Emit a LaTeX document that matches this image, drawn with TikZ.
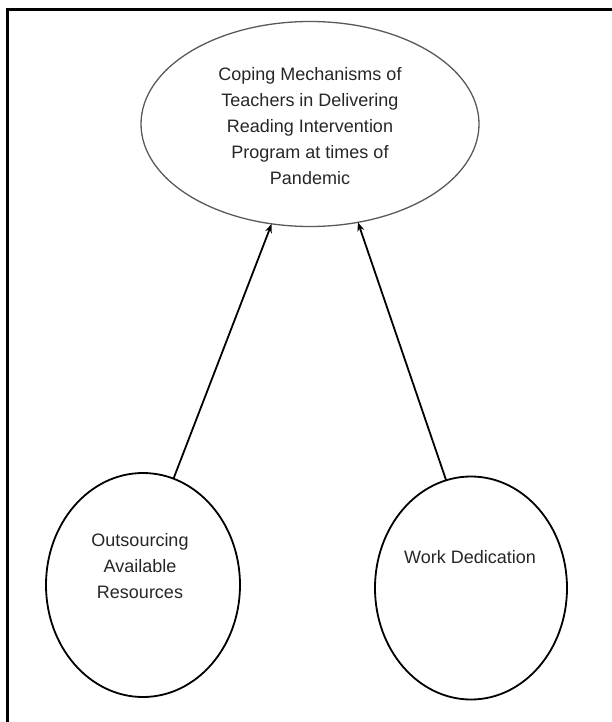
\documentclass[tikz,border=0pt]{standalone}
\usepackage{fontspec}
\setmainfont{Liberation Sans}
\usetikzlibrary{shapes.geometric,arrows.meta}
\begin{document}
\begin{tikzpicture}[x=1pt,y=-1pt,
  lbl/.style={font=\fontsize{18}{26}\selectfont, align=center, text=black!85},
  topoval/.style={ellipse, draw=black!65, line width=1.3pt, outer sep=0pt, inner sep=0pt},
  circ/.style={ellipse, draw=black, line width=1.8pt, outer sep=0pt, inner sep=0pt},
  arr/.style={-{Stealth[length=9pt,width=7pt]}, line width=1.8pt, black}]
\useasboundingbox (0,0) rectangle (611,722);
\draw[line width=3pt] (7,740) -- (7,10) -- (630,10);
\node[topoval, minimum width=338pt, minimum height=205pt] (top) at (310,124) {};
\node[circ, minimum width=194pt, minimum height=224pt] (lc) at (143,585) {};
\node[circ, minimum width=192pt, minimum height=223pt] (rc) at (471,588) {};
\node[lbl] (ttext) at (310,126) {Coping Mechanisms of\\Teachers in Delivering\\Reading Intervention\\Program at times of\\Pandemic};
\node[lbl] (ltext) at (140,566) {Outsourcing\\Available\\Resources};
\node[lbl] (rtext) at (470,557) {Work Dedication};
\draw[arr] (lc.74) -- (top.249.5);
\draw[arr] (rc.103) -- (top.296.8);
\end{tikzpicture}
\end{document}
